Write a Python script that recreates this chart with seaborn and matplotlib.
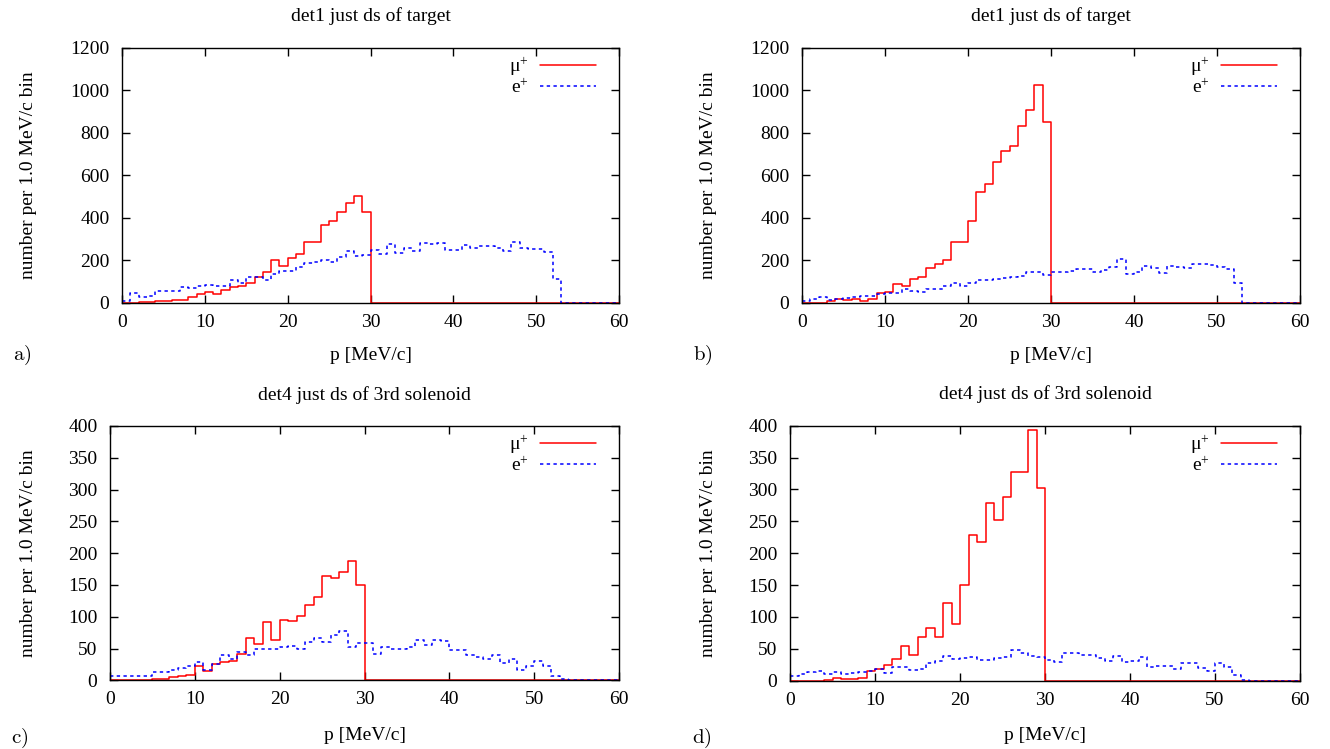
import numpy as np
import pandas as pd
import matplotlib
matplotlib.use("Agg")
import matplotlib.pyplot as plt
from matplotlib.lines import Line2D
import seaborn as sns

# ---------------- data (counts per 1 MeV/c bin, starting at 0 MeV/c) ----------------
bin_edges = list(range(0, 61))
x_ticks = [0, 10, 20, 30, 40, 50, 60]
y_ticks_det1 = [0, 200, 400, 600, 800, 1000, 1200]
y_ticks_det4 = [0, 50, 100, 150, 200, 250, 300, 350, 400]

title_det1 = "det1 just ds of target"
title_det4 = "det4 just ds of 3rd solenoid"
x_label = "p [MeV/c]"
y_label = "number per 1.0 MeV/c bin"
series_labels = [r"$\mathrm{μ}^{+}$", r"$\mathrm{e}^{+}$"]
panel_tags = ["a)", "b)", "c)", "d)"]

mu_a = [0, 0, 2, 5, 10, 10, 15, 12, 28, 40, 49, 40, 60, 72, 80, 91, 122, 144, 200, 175,
        210, 230, 284, 284, 364, 386, 427, 470, 504, 427]
e_a = [10, 47, 28, 33, 55, 55, 55, 75, 70, 80, 85, 80, 80, 107, 94, 122, 119, 105, 135, 147,
       147, 170, 185, 190, 200, 193, 216, 243, 220, 223, 248, 229, 274, 235, 259, 243, 279, 276,
       282, 248, 248, 270, 259, 267, 267, 259, 245, 284, 259, 253, 253, 240, 110]

mu_b = [0, 0, 0, 8, 16, 12, 16, 9, 19, 44, 49, 89, 78, 113, 121, 165, 182, 199, 287, 287,
        386, 521, 558, 660, 714, 737, 830, 908, 1023, 852]
e_b = [6, 16, 28, 12, 19, 22, 28, 33, 33, 41, 44, 44, 63, 55, 52, 63, 66, 78, 94, 80,
       94, 107, 107, 110, 115, 122, 125, 146, 143, 129, 146, 146, 151, 157, 158, 146, 154, 169,
       205, 133, 143, 173, 162, 141, 174, 166, 162, 180, 182, 177, 169, 157, 94]

mu_c = [0, 0, 0, 0, 0, 2, 2, 5, 7, 9, 22, 15, 26, 29, 31, 41, 66, 57, 91, 63,
        95, 93, 101, 118, 131, 164, 161, 171, 188, 150]
e_c = [7, 7, 7, 6, 6, 13, 13, 16, 19, 23, 28, 16, 26, 40, 33, 45, 40, 50, 49, 50,
       52, 54, 49, 61, 67, 61, 72, 78, 53, 58, 58, 42, 53, 49, 49, 52, 63, 55, 63, 62,
       47, 48, 40, 36, 34, 40, 27, 34, 16, 23, 31, 22, 7, 2]

mu_d = [0, 0, 0, 0, 1, 5, 2, 2, 4, 16, 19, 25, 34, 55, 40, 69, 82, 69, 122, 89,
        150, 229, 217, 279, 252, 288, 327, 327, 394, 302]
e_d = [7, 10, 14, 15, 10, 13, 10, 12, 13, 16, 18, 12, 22, 21, 17, 19, 28, 31, 38, 34,
       35, 37, 32, 33, 35, 37, 48, 43, 38, 37, 33, 30, 43, 44, 40, 41, 35, 31, 38, 29,
       31, 37, 22, 23, 23, 19, 27, 27, 20, 16, 27, 22, 9, 1]

# ---------------- style ----------------
sns.set_theme(style="white")
plt.rcParams["font.family"] = ["Liberation Serif", "DejaVu Serif"]
plt.rcParams["mathtext.fontset"] = "custom"
plt.rcParams["mathtext.rm"] = "Liberation Serif"
plt.rcParams["mathtext.it"] = "Liberation Serif:italic"
plt.rcParams["mathtext.bf"] = "Liberation Serif:bold"
plt.rcParams["axes.edgecolor"] = "black"
plt.rcParams["axes.linewidth"] = 1.0
plt.rcParams["text.color"] = "black"
plt.rcParams["axes.labelcolor"] = "black"
plt.rcParams["xtick.color"] = "black"
plt.rcParams["ytick.color"] = "black"

FS = 14
RED = "#ff0000"
BLUE = "#0000ff"
BLUE_DASH = (0, (2.2, 2.2))

fig = plt.figure(figsize=(13.3, 7.49), dpi=100)

# axes rectangles in figure pixels: left, right, top, bottom (image coords)
W, H = 1330.0, 749.0
rects = [
    (122, 619, 47.7, 302.7),
    (802, 1300, 47.7, 302.7),
    (110, 619, 426.0, 680.3),
    (790, 1300, 425.7, 680.7),
]
panels = [
    (mu_a, e_a, y_ticks_det1, title_det1),
    (mu_b, e_b, y_ticks_det1, title_det1),
    (mu_c, e_c, y_ticks_det4, title_det4),
    (mu_d, e_d, y_ticks_det4, title_det4),
]
tag_pos = [(22, 355), (703, 355), (20, 738), (702, 738)]
ylabel_right = [37, 717, 37, 717]
xlabel_top = [347, 347, 727, 727]

centers = np.asarray(bin_edges[:-1]) + 0.5
nbins = len(centers)

for i, ((l, r, t, b), (mu, e, yt, title)) in enumerate(zip(rects, panels)):
    ax = fig.add_axes([l / W, (H - b) / H, (r - l) / W, (b - t) / H])
    mu_full = np.zeros(nbins)
    mu_full[:len(mu)] = mu
    e_full = np.zeros(nbins)
    e_full[:len(e)] = e
    df = pd.DataFrame({"p": centers, "mu": mu_full, "e": e_full})
    sns.histplot(data=df, x="p", weights="mu", bins=bin_edges, element="step",
                 fill=False, color=RED, linewidth=1.1, ax=ax)
    sns.histplot(data=df, x="p", weights="e", bins=bin_edges, element="step",
                 fill=False, color=BLUE, linewidth=1.1, linestyle=BLUE_DASH, ax=ax)

    ax.set_xlim(0, 60)
    ax.set_ylim(yt[0], yt[-1])
    ax.set_xticks(x_ticks)
    ax.set_yticks(yt)
    ax.tick_params(axis="both", which="major", direction="in", length=6, width=1,
                   top=True, right=True, bottom=True, left=True, labelsize=FS)
    ax.tick_params(axis="x", pad=8)
    ax.tick_params(axis="y", pad=9)
    for sp in ax.spines.values():
        sp.set_visible(True)
        sp.set_color("black")
        sp.set_linewidth(1.0)
    ax.grid(False)

    ax_w = r - l
    ax_h = b - t
    ax.set_title(title, fontsize=FS, pad=19)
    ax.set_xlabel(x_label, fontsize=FS)
    ax.set_ylabel(y_label, fontsize=FS)
    ax.yaxis.set_label_coords((ylabel_right[i] - l) / ax_w, 0.5)
    ax.xaxis.set_label_coords(0.5, -(xlabel_top[i] - b) / ax_h)

    handles = [Line2D([], [], color=RED, lw=1.1),
               Line2D([], [], color=BLUE, lw=1.1, linestyle=BLUE_DASH)]
    ax.legend(handles, series_labels, loc="upper right", frameon=False,
              markerfirst=False, fontsize=FS, handlelength=2.9, handletextpad=0.55,
              labelspacing=0.0, borderpad=0.0, borderaxespad=0.0,
              bbox_to_anchor=((ax_w - 23) / ax_w, 1 - 7.5 / ax_h))

    fig.text(tag_pos[i][0] / W, 1 - tag_pos[i][1] / H, r"$\mathrm{" + panel_tags[i] + "}$",
             fontsize=FS + 1, ha="center", va="center", math_fontfamily="cm")

fig.savefig("out.png", dpi=100)
